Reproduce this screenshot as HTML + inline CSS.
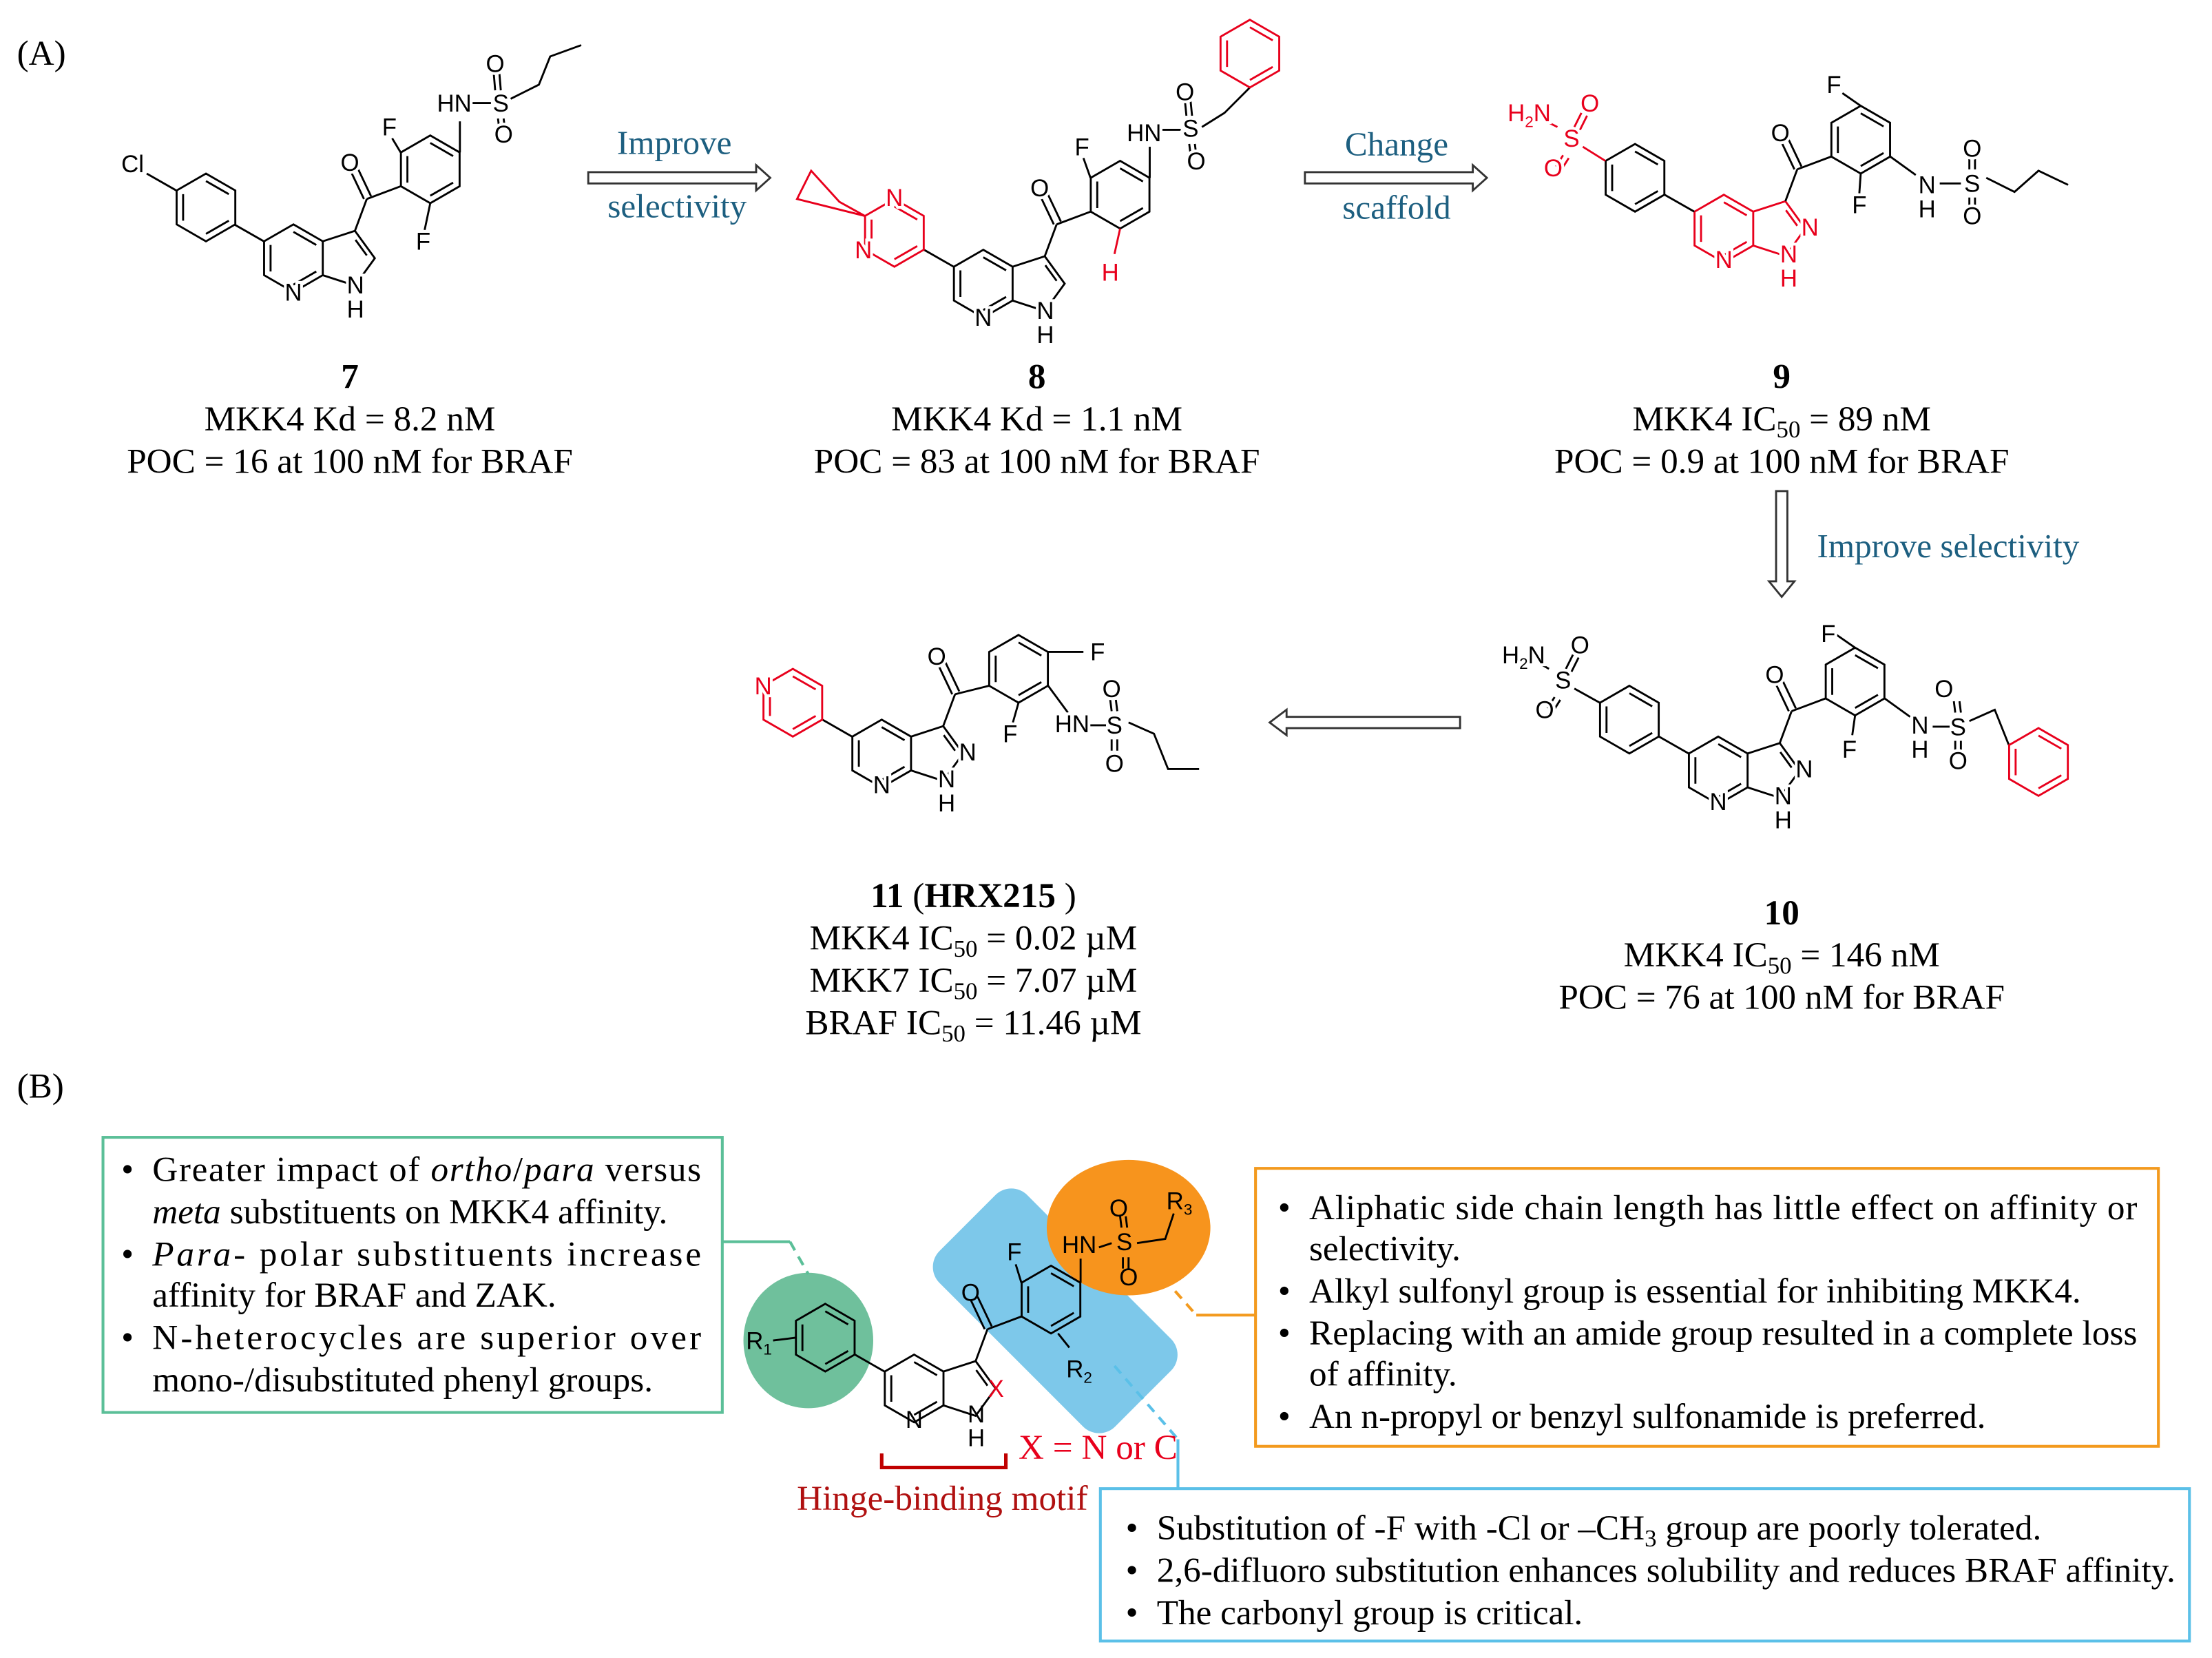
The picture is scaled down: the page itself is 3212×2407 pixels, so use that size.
<!DOCTYPE html>
<html><head><meta charset="utf-8"><style>
html,body{margin:0;padding:0;background:#fff;}
svg{display:block;}
.t{font-family:"Liberation Serif",serif;font-size:25px;fill:#000;}
.a{font-family:"Liberation Sans",sans-serif;font-size:17px;text-anchor:middle;stroke:#fff;stroke-width:4;paint-order:stroke;}
.m line,.m path,.m polyline{stroke-width:1.4;fill:none;}
.lab{font-family:"Liberation Serif",serif;font-size:24px;fill:#1d5f80;text-anchor:middle;}
</style></head><body>
<svg width="3212" height="2407" viewBox="0 0 1568 1175" xmlns="http://www.w3.org/2000/svg">
<defs>
<g id="hx"><polygon points="0,-24 20.8,-12 20.8,12 0,24 -20.8,12 -20.8,-12" fill="none"/><path d="M0,-18.7 L16.2,-9.4 M16.2,9.4 L0,18.7 M-16.2,9.4 L-16.2,-9.4" fill="none"/></g>
<g id="core"><use href="#hx"/><path d="M20.8,-12 L43.6,-19.4 L57.7,0 L43.6,19.4 L20.8,12 M44,-13 L52,-2" fill="none"/></g>
</defs>
<rect width="1568" height="1175" fill="#fff"/>
<g class="m" stroke="#000" stroke-width="1.4" fill="none">
<!-- Compound 7 -->
<use href="#core" x="208" y="183"/>
<line x1="187" y1="171" x2="166" y2="159"/>
<use href="#hx" x="146" y="147"/>
<line x1="125" y1="135" x2="104" y2="123"/>
<line x1="251.6" y1="163.6" x2="260" y2="141"/>
<line x1="258" y1="141" x2="248" y2="120"/><line x1="263" y1="139" x2="253" y2="118"/>
<line x1="260" y1="141" x2="284" y2="132"/>
<use href="#hx" x="305" y="120"/>
<line x1="284" y1="108" x2="278" y2="98"/>
<line x1="305" y1="144" x2="301" y2="163"/>
<line x1="326" y1="108" x2="326" y2="86"/>
<line x1="335" y1="73" x2="348" y2="73"/>
<path d="M351,64 L350,52 M355,64 L354,52 M353,84 L354,92 M357,84 L358,92"/>
<polyline points="362,70 382,60 390,40 412,32"/>
<!-- Compound 8 -->
<use href="#core" x="697" y="201"/>
<line x1="676" y1="189" x2="655" y2="177"/>
<use href="#hx" x="634" y="165" stroke="#e8001c"/>
<path d="M613,153 L595,143 L575,121 L565,141 Z" stroke="#e8001c"/>
<line x1="740.6" y1="181.6" x2="749" y2="159"/>
<line x1="747" y1="159" x2="737" y2="138"/><line x1="752" y1="157" x2="742" y2="136"/>
<line x1="749" y1="159" x2="773" y2="150"/>
<use href="#hx" x="794" y="138"/>
<line x1="773" y1="126" x2="768" y2="112"/>
<line x1="815" y1="126" x2="815" y2="104"/>
<line x1="824" y1="92" x2="837" y2="92"/>
<path d="M841,82 L840,72 M845,82 L844,72 M843,102 L844,110 M847,102 L848,110"/>
<polyline points="852,90 868,80 886,62"/>
<use href="#hx" x="886" y="38" stroke="#e8001c"/>
<line x1="794" y1="162" x2="790" y2="180" stroke="#e8001c"/>
<!-- Compound 9 -->
<use href="#core" x="1222" y="162" stroke="#e8001c"/>
<line x1="1201" y1="150" x2="1180" y2="138"/>
<use href="#hx" x="1159" y="126"/>
<line x1="1138" y1="114" x2="1122" y2="104" stroke="#e8001c"/>
<path d="M1104,90 L1096,86 M1116,90 L1121,80 M1120,92 L1125,82 M1108,110 L1103,118 M1112,112 L1107,120" stroke="#e8001c"/>
<line x1="1265.6" y1="142.6" x2="1274" y2="120"/>
<line x1="1272" y1="120" x2="1262" y2="99"/><line x1="1277" y1="118" x2="1267" y2="97"/>
<line x1="1274" y1="120" x2="1298" y2="111"/>
<use href="#hx" x="1319" y="99"/>
<line x1="1319" y1="75" x2="1306" y2="66"/>
<line x1="1319" y1="123" x2="1318" y2="137"/>
<line x1="1340" y1="111" x2="1358" y2="124"/>
<line x1="1375" y1="130" x2="1390" y2="130"/>
<path d="M1396,120 L1396,112 M1400,120 L1400,112 M1396,140 L1396,148 M1400,140 L1400,148"/>
<polyline points="1408,126 1428,136 1445,121 1466,131"/>
<!-- Compound 10 -->
<use href="#core" x="1218" y="546"/>
<line x1="1197" y1="534" x2="1176" y2="522"/>
<use href="#hx" x="1155" y="510"/>
<line x1="1134" y1="498" x2="1116" y2="488"/>
<path d="M1098,474 L1091,470 M1110,474 L1115,464 M1114,476 L1119,466 M1102,494 L1097,502 M1106,496 L1101,504"/>
<line x1="1261.6" y1="526.6" x2="1270" y2="504"/>
<line x1="1268" y1="504" x2="1258" y2="483"/><line x1="1273" y1="502" x2="1263" y2="481"/>
<line x1="1270" y1="504" x2="1294" y2="495"/>
<use href="#hx" x="1315" y="483"/>
<line x1="1315" y1="459" x2="1302" y2="450"/>
<line x1="1315" y1="507" x2="1313" y2="521"/>
<line x1="1336" y1="495" x2="1354" y2="508"/>
<line x1="1370" y1="515" x2="1382" y2="515"/>
<path d="M1386,505 L1385,497 M1390,505 L1389,497 M1386,525 L1386,533 M1390,525 L1390,533"/>
<polyline points="1396,511 1414,503 1424,528"/>
<use href="#hx" x="1445" y="540" stroke="#e8001c"/>
<!-- Compound 11 -->
<use href="#core" x="625" y="534"/>
<line x1="604" y1="522" x2="583" y2="510"/>
<use href="#hx" x="562" y="498" stroke="#e8001c"/>
<line x1="668.6" y1="514.6" x2="677" y2="492"/>
<line x1="675" y1="492" x2="665" y2="471"/><line x1="680" y1="490" x2="670" y2="469"/>
<line x1="677" y1="492" x2="701" y2="486"/>
<use href="#hx" x="722" y="474"/>
<line x1="743" y1="462" x2="768" y2="462"/>
<line x1="722" y1="498" x2="718" y2="512"/>
<line x1="743" y1="486" x2="757" y2="505"/>
<line x1="772" y1="514" x2="784" y2="514"/>
<path d="M788,504 L787,496 M792,504 L791,496 M788,524 L788,532 M792,524 L792,532"/>
<polyline points="800,512 818,520 828,545 850,545"/>
</g>
<!-- atom labels -->
<g class="a">
<text x="94" y="122">Cl</text>
<text x="208" y="213">N</text><text x="252" y="208">N</text><text x="252" y="225">H</text>
<text x="248" y="121">O</text><text x="276" y="96">F</text><text x="300" y="177">F</text>
<text x="322" y="79">HN</text><text x="355" y="79">S</text><text x="351" y="51">O</text><text x="357" y="101">O</text>
<g fill="#e8001c"><text x="634" y="146">N</text><text x="612" y="183">N</text><text x="787" y="199">H</text></g>
<text x="697" y="231">N</text><text x="741" y="226">N</text><text x="741" y="243">H</text>
<text x="737" y="139">O</text><text x="767" y="110">F</text>
<text x="811" y="100">HN</text><text x="844" y="97">S</text><text x="840" y="71">O</text><text x="848" y="120">O</text>
<g fill="#e8001c"><text x="1222" y="190">N</text><text x="1283" y="167">N</text><text x="1268" y="186">N</text><text x="1268" y="203">H</text>
<text x="1084" y="86">H<tspan font-size="11" dy="4">2</tspan><tspan dy="-4">N</tspan></text><text x="1114" y="104">S</text><text x="1127" y="79">O</text><text x="1101" y="125">O</text></g>
<text x="1262" y="100">O</text><text x="1300" y="66">F</text><text x="1318" y="151">F</text>
<text x="1366" y="137">N</text><text x="1366" y="154">H</text><text x="1398" y="136">S</text><text x="1398" y="111">O</text><text x="1398" y="159">O</text>
<text x="1218" y="574">N</text><text x="1279" y="551">N</text><text x="1264" y="570">N</text><text x="1264" y="587">H</text>
<text x="1080" y="470">H<tspan font-size="11" dy="4">2</tspan><tspan dy="-4">N</tspan></text><text x="1108" y="488">S</text><text x="1120" y="463">O</text><text x="1095" y="509">O</text>
<text x="1258" y="484">O</text><text x="1296" y="455">F</text><text x="1311" y="537">F</text>
<text x="1361" y="520">N</text><text x="1361" y="537">H</text><text x="1388" y="521">S</text><text x="1378" y="494">O</text><text x="1388" y="545">O</text>
<text x="541" y="492" fill="#e8001c">N</text>
<text x="625" y="562">N</text><text x="686" y="539">N</text><text x="671" y="558">N</text><text x="671" y="575">H</text>
<text x="664" y="471">O</text><text x="778" y="468">F</text><text x="716" y="526">F</text>
<text x="760" y="519">HN</text><text x="790" y="520">S</text><text x="788" y="494">O</text><text x="790" y="547">O</text>
</g>
<!-- captions -->
<g class="t" text-anchor="middle">
<text x="248" y="275" font-weight="bold">7</text>
<text x="248" y="305">MKK4 Kd = 8.2 nM</text>
<text x="248" y="335">POC = 16 at 100 nM for BRAF</text>
<text x="735" y="275" font-weight="bold">8</text>
<text x="735" y="305">MKK4  Kd = 1.1 nM</text>
<text x="735" y="335">POC = 83 at 100 nM for BRAF</text>
<text x="1263" y="275" font-weight="bold">9</text>
<text x="1263" y="305">MKK4 IC<tspan font-size="17" dy="5">50</tspan><tspan dy="-5"> = 89 nM</tspan></text>
<text x="1263" y="335">POC = 0.9 at 100 nM for BRAF</text>
<text x="1263" y="655" font-weight="bold">10</text>
<text x="1263" y="685">MKK4 IC<tspan font-size="17" dy="5">50</tspan><tspan dy="-5"> = 146 nM</tspan></text>
<text x="1263" y="715">POC = 76 at 100 nM for BRAF</text>
<text x="690" y="643"><tspan font-weight="bold">11</tspan> (<tspan font-weight="bold">HRX215</tspan> )</text>
<text x="690" y="673">MKK4 IC<tspan font-size="17" dy="5">50</tspan><tspan dy="-5"> = 0.02 µM</tspan></text>
<text x="690" y="703">MKK7 IC<tspan font-size="17" dy="5">50</tspan><tspan dy="-5"> = 7.07 µM</tspan></text>
<text x="690" y="733">BRAF IC<tspan font-size="17" dy="5">50</tspan><tspan dy="-5"> = 11.46 µM</tspan></text>
</g>
<text class="t" x="12" y="46" font-size="29">(A)</text>
<text class="t" x="12" y="778" font-size="29">(B)</text>
<!-- arrows -->
<g fill="#fff" stroke="#333" stroke-width="1.4">
<path d="M417,122 L536,122 L536,117 L546,126 L536,135 L536,130 L417,130 Z"/>
<path d="M925,122 L1044,122 L1044,117 L1054,126 L1044,135 L1044,130 L925,130 Z"/>
<path d="M1259,348 L1259,412 L1254,412 L1263,423 L1272,412 L1267,412 L1267,348 Z"/>
<path d="M1035,508 L912,508 L912,503 L900,512 L912,521 L912,516 L1035,516 Z"/>
</g>
<text class="lab" x="478" y="109">Improve</text>
<text class="lab" x="480" y="154">selectivity</text>
<text class="lab" x="990" y="110">Change</text>
<text class="lab" x="990" y="155">scaffold</text>
<text class="lab" x="1381" y="395">Improve selectivity</text>
<!-- Part B shapes -->
<ellipse cx="573" cy="950" rx="46" ry="48" fill="#6fc09c"/>
<rect x="660" y="885" width="176" height="88" rx="16" fill="#7dc8ea" transform="rotate(45 748 929)"/>
<ellipse cx="800" cy="870" rx="58" ry="48" fill="#f7941d"/>
<g fill="none" stroke-width="2">
<rect x="73" y="806" width="439" height="195" stroke="#5bbf98"/>
<path d="M512,880 L560,880" stroke="#5bbf98"/>
<path d="M560,880 L573,903" stroke="#5bbf98" stroke-dasharray="7,5"/>
<rect x="890" y="828" width="640" height="197" stroke="#f39a1e"/>
<path d="M833,915 L848,932" stroke="#f39a1e" stroke-dasharray="7,5"/>
<path d="M848,932 L890,932" stroke="#f39a1e"/>
<rect x="780" y="1055" width="772" height="108" stroke="#5bc0e8"/>
<path d="M790,968 L835,1020" stroke="#5bc0e8" stroke-dasharray="7,5"/>
<path d="M835,1020 L835,1055" stroke="#5bc0e8"/>
<path d="M625,1030 L625,1040 L713,1040 L713,1030" stroke="#c00000" stroke-width="2.5"/>
</g>
<!-- Part B molecule -->
<g class="m" stroke="#000" stroke-width="1.4" fill="none">
<use href="#core" x="648" y="984"/>
<line x1="627" y1="972" x2="606" y2="960"/>
<use href="#hx" x="585" y="948"/>
<line x1="564" y1="948" x2="548" y2="950"/>
<line x1="691.6" y1="964.6" x2="700" y2="942"/>
<line x1="698" y1="942" x2="688" y2="921"/><line x1="703" y1="940" x2="693" y2="919"/>
<line x1="700" y1="942" x2="724" y2="933"/>
<use href="#hx" x="745" y="921"/>
<line x1="724" y1="909" x2="720" y2="896"/>
<line x1="766" y1="909" x2="766" y2="892"/>
<line x1="750" y1="945" x2="758" y2="955"/>
<line x1="779" y1="884" x2="788" y2="881"/>
<path d="M795,870 L794,862 M799,870 L798,862 M796,891 L796,899 M800,891 L800,899"/>
<polyline points="806,881 826,878 832,860"/>
</g>
<g class="a">
<text x="538" y="956" style="stroke:none">R<tspan font-size="11" dy="4">1</tspan></text>
<text x="648" y="1012" style="stroke:none">N</text>
<text x="706" y="990" fill="#e8001c" style="stroke:none">X</text>
<text x="692" y="1008" style="stroke:none">N</text><text x="692" y="1025" style="stroke:none">H</text>
<text x="688" y="922" style="stroke:none">O</text><text x="719" y="893" style="stroke:none">F</text>
<text x="765" y="888" style="stroke:none">HN</text><text x="797" y="886" style="stroke:none">S</text>
<text x="793" y="862" style="stroke:none">O</text><text x="800" y="911" style="stroke:none">O</text>
<text x="836" y="857" style="stroke:none">R<tspan font-size="11" dy="4">3</tspan></text>
<text x="765" y="976" style="stroke:none">R<tspan font-size="11" dy="4">2</tspan></text>
</g>
<text class="t" x="722" y="1034" style="fill:#e8001c">X = N or C</text>
<text class="t" x="668" y="1070" text-anchor="middle" style="fill:#b01010">Hinge-binding motif</text>
<!-- bullets text -->
<g class="t">
<text x="86" y="837">•</text><text x="108" y="837" textLength="389" lengthAdjust="spacing">Greater impact of <tspan font-style="italic">ortho</tspan>/<tspan font-style="italic">para</tspan> versus</text>
<text x="108" y="867"><tspan font-style="italic">meta</tspan> substituents on MKK4 affinity.</text>
<text x="86" y="897">•</text><text x="108" y="897" textLength="389" lengthAdjust="spacing"><tspan font-style="italic">Para</tspan>- polar substituents increase</text>
<text x="108" y="926">affinity for BRAF and ZAK.</text>
<text x="86" y="956">•</text><text x="108" y="956" textLength="389" lengthAdjust="spacing">N-heterocycles are superior over</text>
<text x="108" y="986">mono-/disubstituted phenyl groups.</text>

<text x="906" y="864">•</text><text x="928" y="864" textLength="587" lengthAdjust="spacing">Aliphatic side chain length has little effect on affinity or</text>
<text x="928" y="893">selectivity.</text>
<text x="906" y="923">•</text><text x="928" y="923">Alkyl sulfonyl group is essential for inhibiting MKK4.</text>
<text x="906" y="953">•</text><text x="928" y="953" textLength="587" lengthAdjust="spacing">Replacing with an amide group resulted in a complete loss</text>
<text x="928" y="982">of affinity.</text>
<text x="906" y="1012">•</text><text x="928" y="1012">An n-propyl or benzyl sulfonamide is preferred.</text>

<text x="798" y="1091">•</text><text x="820" y="1091">Substitution of -F with -Cl or –CH<tspan font-size="17" dy="5">3</tspan><tspan dy="-5"> group are poorly tolerated.</tspan></text>
<text x="798" y="1121">•</text><text x="820" y="1121">2,6-difluoro substitution enhances solubility and reduces BRAF affinity.</text>
<text x="798" y="1151">•</text><text x="820" y="1151">The carbonyl group is critical.</text>
</g>
</svg>
</body></html>
